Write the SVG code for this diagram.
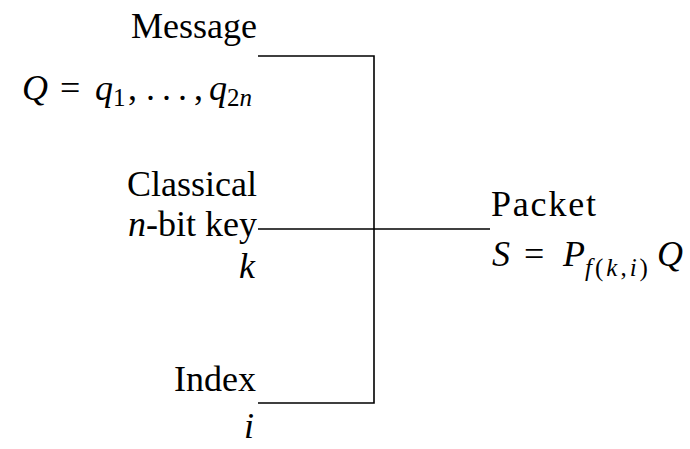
<svg xmlns="http://www.w3.org/2000/svg" width="690" height="449" viewBox="0 0 690 449">
<style>
text{font-family:'Liberation Serif','Times New Roman',serif;font-size:36px;fill:#000}
.it{font-style:italic}
.sub{font-size:25px}
.wire{stroke:#000;stroke-width:1.6;fill:none}
</style>
<rect width="690" height="449" fill="#fff"/>
<g id="message">
<text x="257" y="38" text-anchor="end">Message</text>
<text y="100"><tspan class="it" x="22">Q</tspan><tspan x="60">=</tspan><tspan class="it" x="95">q</tspan><tspan class="sub" dy="6">1</tspan><tspan x="128" dy="-6">,</tspan><tspan x="146">.</tspan><tspan x="162">.</tspan><tspan x="178">.</tspan><tspan x="194">,</tspan><tspan class="it" x="209">q</tspan><tspan class="sub" dy="6">2</tspan><tspan class="sub it">n</tspan></text>
</g>
<g id="key">
<text x="257" y="196" text-anchor="end">Classical</text>
<text x="257" y="236" text-anchor="end"><tspan class="it">n</tspan>-bit key</text>
<text x="255" y="278" text-anchor="end" class="it">k</text>
</g>
<g id="index">
<text x="256" y="391" text-anchor="end">Index</text>
<text x="254" y="438" text-anchor="end" class="it">i</text>
</g>
<g id="packet">
<text x="491" y="216" textLength="105" lengthAdjust="spacing">Packet</text>
<text y="266"><tspan class="it" x="492">S</tspan><tspan x="524">=</tspan><tspan class="it" x="563">P</tspan><tspan class="sub" dy="10" letter-spacing="3"><tspan class="it">f</tspan>(<tspan class="it">k</tspan>,<tspan class="it">i</tspan>)</tspan><tspan class="it" x="657" dy="-10">Q</tspan></text>
</g>
<g id="connectors">
<polyline class="wire" points="258,56 374,56 374,403 258,403"/>
<line class="wire" x1="258" y1="229" x2="490" y2="229"/>
</g>
</svg>
